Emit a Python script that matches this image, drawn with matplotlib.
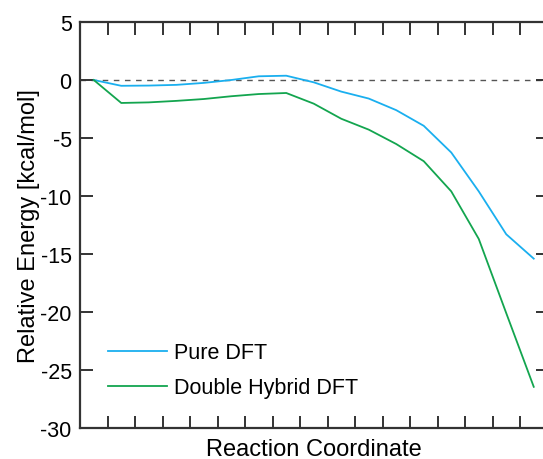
import matplotlib
matplotlib.use('Agg')
import matplotlib.pyplot as plt
import numpy as np

### Data
steps = np.arange(17) + 0.5  # points sit halfway between the x ticks
pure_dft = [0, -0.5, -0.48, -0.42, -0.25, 0.0, 0.32, 0.37, -0.2, -1.0,
            -1.6, -2.6, -3.95, -6.25, -9.6, -13.3, -15.4]
double_hybrid = [0, -1.98, -1.93, -1.8, -1.64, -1.4, -1.21, -1.12, -2.04, -3.34,
                 -4.28, -5.52, -7.0, -9.6, -13.7, -20.1, -26.45]
y_ticks = [5, 0, -5, -10, -15, -20, -25, -30]

plt.rcParams['font.family'] = ['Liberation Sans', 'DejaVu Sans']

W, H = 543, 460
fig = plt.figure(figsize=(W / 100, H / 100), dpi=100)
# axes runs past the right edge of the picture, as in the reference
ax = fig.add_axes([80 / W, 31 / H, 467.5 / W, 406 / H])

ax.axhline(0, color='#555555', lw=1, ls=(0, (4, 4)), zorder=1)
ax.plot(steps, pure_dft, color='#1AAFEF', lw=1.3, label='Pure DFT')
ax.plot(steps, double_hybrid, color='#13A54F', lw=1.3, label='Double Hybrid DFT')

ax.set_xlim(0, 17)
ax.set_ylim(-30, 5)
ax.set_xticks(np.arange(1, 17))
ax.set_xticklabels([])
ax.set_yticks(y_ticks)
ax.set_yticklabels([str(t) for t in y_ticks])

for s in ax.spines.values():
    s.set_color('#333333')
    s.set_linewidth(1.6)
ax.tick_params(direction='in', length=9, width=1.4, color='#333333',
               top=True, right=True, labelsize=15.5, pad=6)

ax.set_xlabel('Reaction Coordinate', fontsize=17, labelpad=1.5)
ax.set_ylabel('Relative Energy [kcal/mol]', fontsize=17, labelpad=0)

ax.legend(loc='lower left', bbox_to_anchor=(0.018, 0.026), frameon=False,
          fontsize=15.5, handlelength=2.74, handletextpad=0.34, labelspacing=0.64)

fig.savefig('out.png', dpi=100)
